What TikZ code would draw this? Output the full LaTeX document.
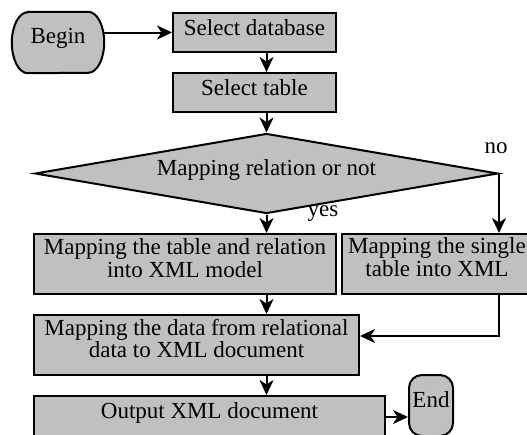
\documentclass[tikz,border=0pt]{standalone}
\usepackage{fontspec}
\setmainfont{Liberation Serif}
\usetikzlibrary{shapes.geometric,arrows.meta,calc}
\definecolor{boxgray}{HTML}{C0C0C0}
\newcommand\rtext[2]{\raisebox{#1}[0pt][0pt]{\begin{tabular}[t]{@{}c@{}}#2\end{tabular}}}
\begin{document}
\begin{tikzpicture}[x=1pt,y=-1pt,
  every node/.style={font=\fontsize{23}{22}\selectfont},
  box/.style={draw, line width=2pt, fill=boxgray, inner sep=0pt},
  term/.style={line width=2pt, fill=boxgray, draw},
  arr/.style={line width=2pt, -{Stealth[length=15pt,width=14pt,inset=4.5pt]}},
  lab/.style={inner sep=0pt, anchor=base}]
\useasboundingbox (0,0) rectangle (527,434);
\clip (0,0) rectangle (527,434);
% Begin terminal: barrel-shaped outline drawn round the node
\node[inner sep=0pt, minimum width=92pt, minimum height=61pt] (begin) at (58,42.5) {};
\filldraw[term] ($(begin.north west)+(16,0)$) -- ($(begin.north east)+(-16,0)$)
  arc[start angle=-90, end angle=90, x radius=16, y radius=30.5]
  -- ($(begin.south west)+(16,0)$)
  arc[start angle=90, end angle=270, x radius=16, y radius=30.5] -- cycle;
\node at (begin.center) {\rtext{-0.5pt}{Begin}};
\node[box, minimum width=163pt, minimum height=39pt] (sd) at (254.5,32.5) {\rtext{-2.5pt}{Select database}};
\node[box, minimum width=163pt, minimum height=39pt] (st) at (254.5,92.5) {\rtext{-2.5pt}{Select table}};
\node[box, diamond, shape aspect=5.8, minimum width=463pt, minimum height=80pt] (dia) at (266.5,173.5) {\rtext{-2pt}{Mapping relation or not}};
\node[box, minimum width=302pt, minimum height=60pt] (tr) at (185,264) {\rtext{9.5pt}{Mapping the table and relation\\into XML model}};
\node[box, minimum width=190pt, minimum height=60pt] (single) at (437,264) {\rtext{10.5pt}{Mapping the single\\table into XML}};
\node[box, minimum width=325pt, minimum height=60pt] (data) at (196.5,345) {\rtext{10pt}{Mapping the data from relational\\data to XML document}};
\node[box, minimum width=351pt, minimum height=61pt] (out) at (209.5,426.5) {\rtext{8.5pt}{Output XML document}};
\node[box, rounded corners=13pt, minimum width=44pt, minimum height=61pt] (end) at (431,405.5) {\rtext{-1.5pt}{End}};
\node[lab] (no) at (496,153) {no};
\node[lab] (yes) at (323,216) {yes};
\coordinate (oe) at ([xshift=-2pt,yshift=9.5pt]out.east);
\coordinate (de) at ([yshift=9pt]data.east);
\draw[arr] (begin.east |- sd.west) -- (sd.west);
\draw[arr] (sd.south -| dia.north) -- (st.north -| dia.north);
\draw[arr] (st.south -| dia.north) -- (dia.north);
\draw[arr] (dia.south) -- (tr.north -| dia.south);
\draw[arr] (dia.east) -- (single.north -| dia.east);
\draw[arr] (tr.south -| dia.south) -- (data.north -| dia.south);
\draw[arr] (single.south -| dia.east) |- (de);
\draw[arr] (data.south -| dia.south) -- (out.north -| dia.south);
\draw[arr] (oe) -- (end.west |- oe);
\end{tikzpicture}
\end{document}
